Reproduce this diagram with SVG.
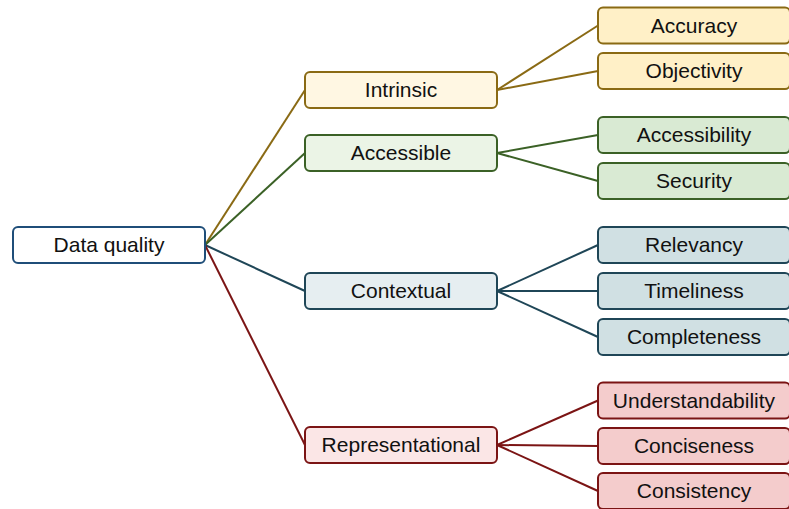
<svg xmlns="http://www.w3.org/2000/svg" width="789" height="509" viewBox="0 0 789 509">
<style>
rect{stroke-width:2}
text{font-family:"Liberation Sans",Arial,sans-serif;font-size:21px;fill:#111;text-anchor:middle;dominant-baseline:central}
.c line{stroke-width:2;fill:none}
.y{stroke:#8a6a14}.g{stroke:#3b6126}.b{stroke:#1f4657}.r{stroke:#7b1414}
.yc{fill:#fff7e3;stroke:#8a6a14}.yl{fill:#fff0c7;stroke:#8a6a14}
.gc{fill:#ebf4e6;stroke:#3b6126}.gl{fill:#d9ead3;stroke:#3b6126}
.bc{fill:#e6eef1;stroke:#1f4657}.bl{fill:#d0e0e3;stroke:#1f4657}
.rc{fill:#fbe6e6;stroke:#7b1414}.rl{fill:#f4cccc;stroke:#7b1414}
</style>
<g class="c" id="connectors">
<line class="y" x1="205" y1="245" x2="305" y2="90"/>
<line class="g" x1="205" y1="245" x2="305" y2="153"/>
<line class="b" x1="205" y1="245" x2="305" y2="291"/>
<line class="r" x1="205" y1="245" x2="305" y2="445"/>
<line class="y" x1="497" y1="90" x2="598" y2="25.5"/>
<line class="y" x1="497" y1="90" x2="598" y2="71"/>
<line class="g" x1="497" y1="153" x2="598" y2="135"/>
<line class="g" x1="497" y1="153" x2="598" y2="181"/>
<line class="b" x1="497" y1="291" x2="598" y2="245"/>
<line class="b" x1="497" y1="291" x2="598" y2="291"/>
<line class="b" x1="497" y1="291" x2="598" y2="337"/>
<line class="r" x1="497" y1="445" x2="598" y2="400.5"/>
<line class="r" x1="497" y1="445" x2="598" y2="446"/>
<line class="r" x1="497" y1="445" x2="598" y2="491"/>
</g>
<g id="data-quality"><rect x="13" y="227" width="192" height="36" rx="5" fill="#fff" stroke="#1f4e79"/><text x="109" y="244.5">Data quality</text></g>
<g id="intrinsic"><rect class="yc" x="305" y="72" width="192" height="36" rx="5"/><text x="401" y="89.5">Intrinsic</text></g>
<g id="accessible"><rect class="gc" x="305" y="135" width="192" height="36" rx="5"/><text x="401" y="152.5">Accessible</text></g>
<g id="contextual"><rect class="bc" x="305" y="273" width="192" height="36" rx="5"/><text x="401" y="290.5">Contextual</text></g>
<g id="representational"><rect class="rc" x="305" y="427" width="192" height="36" rx="5"/><text x="401" y="444.5">Representational</text></g>
<g id="accuracy"><rect class="yl" x="598" y="7.5" width="192" height="36" rx="5"/><text x="694" y="25">Accuracy</text></g>
<g id="objectivity"><rect class="yl" x="598" y="53" width="192" height="36" rx="5"/><text x="694" y="70.5">Objectivity</text></g>
<g id="accessibility"><rect class="gl" x="598" y="117" width="192" height="36" rx="5"/><text x="694" y="134.5">Accessibility</text></g>
<g id="security"><rect class="gl" x="598" y="163" width="192" height="36" rx="5"/><text x="694" y="180.5">Security</text></g>
<g id="relevancy"><rect class="bl" x="598" y="227" width="192" height="36" rx="5"/><text x="694" y="244.5">Relevancy</text></g>
<g id="timeliness"><rect class="bl" x="598" y="273" width="192" height="36" rx="5"/><text x="694" y="290.5">Timeliness</text></g>
<g id="completeness"><rect class="bl" x="598" y="319" width="192" height="36" rx="5"/><text x="694" y="336.5">Completeness</text></g>
<g id="understandability"><rect class="rl" x="598" y="382.5" width="192" height="36" rx="5"/><text x="694" y="400">Understandability</text></g>
<g id="conciseness"><rect class="rl" x="598" y="428" width="192" height="36" rx="5"/><text x="694" y="445.5">Conciseness</text></g>
<g id="consistency"><rect class="rl" x="598" y="473" width="192" height="36" rx="5"/><text x="694" y="490.5">Consistency</text></g>
</svg>
